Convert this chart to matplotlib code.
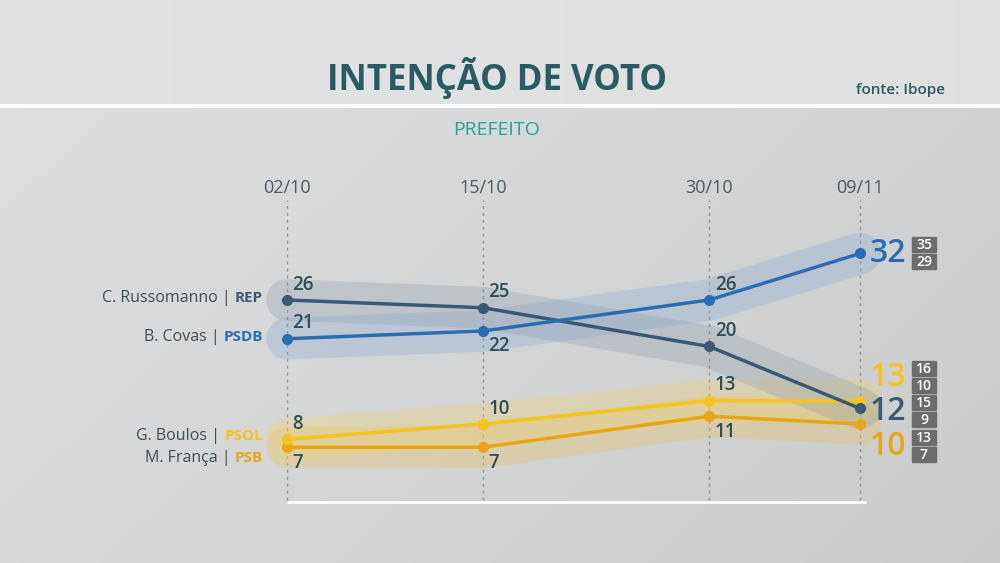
import matplotlib.pyplot as plt
import numpy as np
import pandas as pd
from matplotlib.patches import Rectangle

plt.rcParams["font.family"] = ["Open Sans", "DejaVu Sans"]

# dados da pesquisa
datas = ["02/10", "15/10", "30/10", "09/11"]
candidatos = ["C. Russomanno", "B. Covas", "G. Boulos", "M. França"]
partidos = ["REP", "PSDB", "PSOL", "PSB"]
russomanno = [26, 25, 20, 12]
covas = [21, 22, 26, 32]
boulos = [8, 10, 13, 13]
franca = [7, 7, 11, 10]
limite_sup = [15, 35, 16, 13]  # margem de erro na ultima pesquisa
limite_inf = [9, 29, 10, 7]

series = [russomanno, covas, boulos, franca]
dias = (pd.to_datetime([d + "/2020" for d in datas], format="%d/%m/%Y")
        - pd.Timestamp("2020-10-02")).days.to_numpy()

cor_linha = ["#3b5874", "#2b6db4", "#f6c41a", "#e9a516"]
cor_faixa = ["#7f90a2", "#86a9cf", "#f0d370", "#e8c260"]
alfa_faixa = [0.26, 0.32, 0.32, 0.32]
cor_num = "#2c4f58"
# posicao dos rotulos: +1 acima, -1 abaixo
lado = [[1, 1, 1], [1, -1, 1], [1, 1, 1], [-1, -1, -1]]
desloc_final = [-2, 0, 17, -16]
desloc_nome = [-2, -2, -3, 11]

fig = plt.figure(figsize=(10, 5.63), dpi=100)

# fundo com degrade
bg = fig.add_axes([0, 0, 1, 1], zorder=0)
yy, xx = np.mgrid[0:563, 0:1000]
grad = 0.875 - 0.05 * (xx / 1000) - 0.03 * (yy / 563)
grad[yy < 104] = 0.885 - 0.01 * (xx[yy < 104] / 1000)
grad[(yy >= 104) & (yy < 108)] = 0.99
bg.imshow(np.dstack([grad, grad + 0.003, grad + 0.006]).clip(0, 1), aspect="auto",
          extent=[0, 1000, 563, 0], interpolation="bilinear")
bg.axis("off")

ax = fig.add_axes([0, 0, 1, 1], zorder=1)
ax.patch.set_alpha(0)
ax.set_xlim(-19.03, 47.28)
ax.set_ylim(-7.94, 64.71)
ax.axis("off")

def px(x, y):
    return x / 1000, 1 - y / 563

fig.text(*px(497, 78), "INTENÇÃO DE VOTO", ha="center", va="center",
         fontsize=25, fontweight="bold", color="#2a5b63")
fig.text(*px(945, 90), "fonte: Ibope", ha="right", va="center",
         fontsize=11, fontweight="semibold", color="#2a5b63")
fig.text(*px(497, 130), "PREFEITO", ha="center", va="center",
         fontsize=14, color="#27a497")

xt = ax.get_xaxis_transform()
ax.vlines(dias, 1 - 500 / 563, 1 - 200 / 563, transform=xt, colors="#8f9193",
          linestyles=(0, (2, 3)), lw=1)
for d, s in zip(dias, datas):
    ax.text(d, 1 - 188 / 563, s, transform=xt, ha="center", va="center",
            fontsize=13, color="#4c5a60")
ax.plot([dias[0], dias[-1] + 0.4], [1 - 502 / 563] * 2, transform=xt,
        color="white", lw=2, solid_capstyle="butt")

# faixas largas translucidas
for i in [3, 2, 0, 1]:
    ax.plot(dias, series[i], color=cor_faixa[i], lw=30, alpha=alfa_faixa[i],
            solid_capstyle="round", solid_joinstyle="round", zorder=2)

for i in [3, 2, 0, 1]:
    ax.plot(dias, series[i], color=cor_linha[i], lw=2.5, marker="o", ms=7, zorder=3)
    for j in range(3):
        ax.annotate(str(series[i][j]), (dias[j], series[i][j]),
                    xytext=(4, 11 * lado[i][j]), textcoords="offset points",
                    ha="left", va="center", fontsize=13.5, fontweight="semibold",
                    color=cor_num, zorder=4)
    ax.annotate(str(series[i][-1]), (dias[-1], series[i][-1]),
                xytext=(7, desloc_final[i]), textcoords="offset points",
                ha="left", va="center", fontsize=23, fontweight="semibold",
                color=cor_linha[i], zorder=4)
    # caixinhas com a margem
    yb = ax.transData.transform((dias[-1], series[i][-1]))[1] + desloc_final[i] * 100 / 72
    yb = 563 - yb
    for k, (v, dy) in enumerate([(limite_sup[i], -8.5), (limite_inf[i], 8.5)]):
        fig.patches.append(Rectangle(px(912, yb + dy + 7.5), 24 / 1000, 15 / 563,
                                     transform=fig.transFigure, color="#6c6c6c",
                                     zorder=5))
        fig.text(*px(924, yb + dy), str(v), ha="center", va="center",
                 fontsize=10, fontweight="semibold", color="white", zorder=6)

# rotulos dos candidatos a esquerda
fig.canvas.draw()
rend = fig.canvas.get_renderer()
for i in range(4):
    y = ax.transData.transform((0, series[i][0]))[1] - desloc_nome[i]
    t = fig.text(263 / 1000, y / 563, partidos[i], ha="right", va="center",
                 fontsize=11, fontweight="bold", color=cor_linha[i])
    w = t.get_window_extent(rend).width
    fig.text((263 - w - 4) / 1000, y / 563, candidatos[i] + " |", ha="right",
             va="center", fontsize=11.5, color="#3f4f5a")

fig.savefig("out.png", dpi=100)
